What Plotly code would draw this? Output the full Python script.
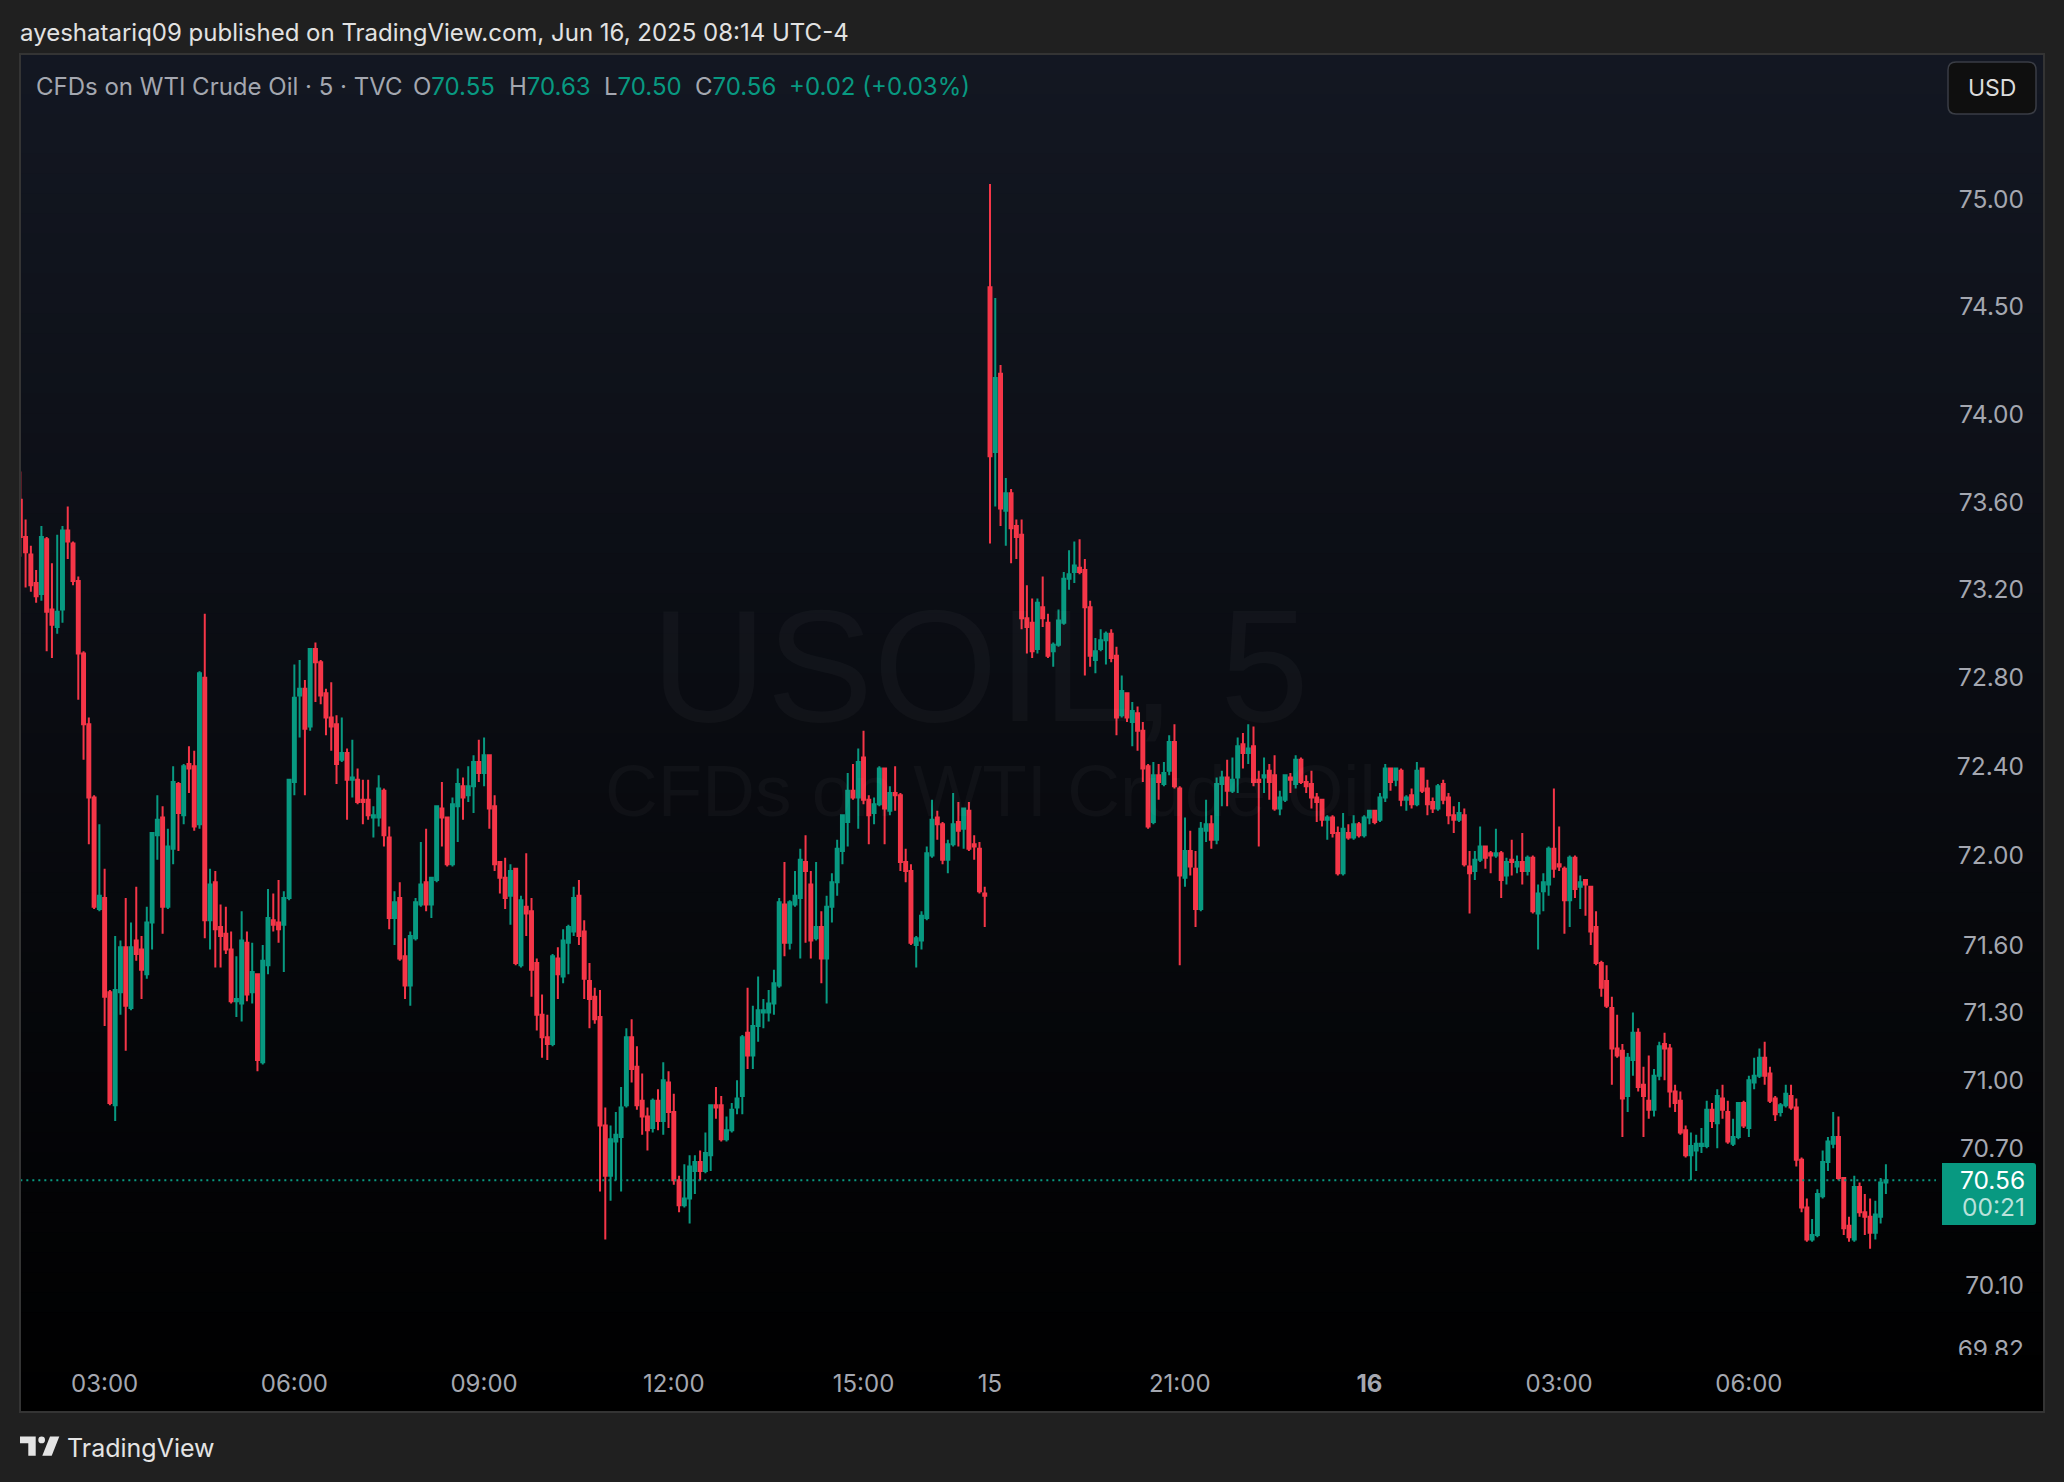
import math
import plotly.graph_objects as go

# ---- values ---------------------------------------------------------------------
open_ = [
73.61,73.44,73.36,73.23,73.18,73.43,73.11,73.03,73.11,73.47,
73.41,73.24,72.91,72.59,72.26,71.76,71.81,71.39,70.89,71.39,
71.59,71.32,71.62,71.58,71.47,71.70,72.09,72.17,71.77,72.03,
72.32,72.18,72.41,72.40,72.14,72.80,71.71,71.88,71.68,71.65,
71.58,71.35,71.34,71.61,71.39,71.47,71.08,71.51,71.71,71.70,
71.69,71.81,72.33,72.72,72.75,72.58,72.93,72.87,72.73,72.62,
72.59,72.43,72.46,72.34,72.34,72.25,72.25,72.17,72.17,72.29,
72.08,71.72,71.81,71.55,71.42,71.63,71.78,71.88,71.78,71.89,
72.21,72.17,71.96,72.22,72.31,72.27,72.31,72.42,72.37,72.45,
72.22,
71.97,71.90,71.82,71.94,71.51,71.77,71.75,71.52,71.29,71.19,
71.16,71.54,71.46,71.61,71.66,71.82,71.66,71.44,71.37,71.28,
70.80,70.58,70.73,70.75,70.89,71.19,71.06,70.91,70.84,70.79,
70.91,70.82,70.99,70.86,70.56,70.45,70.48,70.60,70.64,70.60,
70.67,70.89,70.89,70.74,70.78,70.88,70.93,71.21,71.11,71.24,
71.30,71.30,71.34,71.42,71.78,71.61,71.78,71.81,71.97,71.87,
71.63,71.68,71.54,71.77,71.88,72.02,72.15,72.29,72.26,72.44,
72.25,72.19,72.23,72.39,72.20,72.28,72.27,71.97,71.93,71.60,
71.62,71.72,72.00,72.17,72.14,71.98,72.05,72.15,72.12,72.20,
72.05,72.03,71.83,
74.59,73.83,74.19,73.56,73.64,73.49,73.45,73.07,73.05,72.93,
73.12,73.05,72.92,72.95,73.05,73.25,73.28,73.30,73.29,73.12,
72.88,72.93,72.97,73.00,72.90,72.63,72.73,72.60,72.64,72.56,
72.40,72.15,72.36,72.32,72.38,72.51,72.30,71.90,72.02,71.94,
71.76,72.11,72.14,72.07,72.32,72.35,72.29,72.35,72.50,72.46,
72.49,72.34,
72.35,72.38,72.36,72.21,72.25,72.35,72.32,72.43,72.33,72.32,
72.26,72.25,72.16,72.17,72.10,71.92,72.10,72.08,72.14,72.09,
72.17,72.20,72.16,72.26,72.39,72.34,72.38,72.25,72.27,72.23,
72.39,72.30,72.24,72.21,72.32,72.26,72.18,72.16,72.18,71.95,
71.93,71.98,72.04,72.01,72.00,72.01,71.91,71.98,71.95,71.97,
71.93,71.99,71.74,71.84,71.87,72.03,71.96,71.94,71.80,71.99,
71.86,71.89,71.86,71.68,71.52,
71.44,71.32,71.14,71.13,70.93,71.09,71.21,70.98,70.91,70.87,
71.02,71.16,71.14,70.95,70.91,70.78,70.67,70.69,70.71,70.71,
70.87,70.81,70.92,70.86,70.72,70.75,70.90,70.79,70.99,71.02,
71.10,71.03,70.92,70.86,70.89,70.93,70.88,70.65,70.44,70.30,
70.32,70.49,70.64,70.72,70.75,70.57,70.36,70.30,70.53,70.42,
70.40,70.33,70.40,70.55,
]
high = [
73.74,73.52,73.40,73.29,73.49,73.44,73.32,73.45,73.49,73.58,
73.42,73.26,72.92,72.62,72.27,72.14,71.94,71.40,71.64,71.62,
71.81,71.70,71.86,71.64,71.77,72.10,72.27,72.22,72.12,72.40,
72.33,72.41,72.49,72.47,72.83,73.09,71.94,71.93,71.78,71.77,
71.66,71.55,71.75,71.66,71.61,71.47,71.60,71.85,71.83,71.89,
71.84,72.34,72.86,72.88,72.79,72.93,72.96,72.88,72.75,72.78,
72.63,72.62,72.48,72.52,72.39,72.34,72.34,72.22,72.36,72.30,
72.13,71.84,71.88,71.63,71.66,71.81,72.06,72.12,71.90,72.22,
72.33,72.17,72.26,72.39,72.35,72.40,72.45,72.52,72.53,72.45,
72.27,
71.97,71.99,71.96,71.94,71.82,72.01,71.81,71.54,71.38,71.29,
71.56,71.59,71.67,71.69,71.86,71.89,71.71,71.52,71.41,71.40,
70.88,70.80,70.86,70.97,71.23,71.27,71.15,71.03,70.88,70.92,
70.96,71.08,71.04,70.94,70.58,70.63,70.67,70.67,70.69,70.77,
70.89,70.97,70.93,70.84,70.90,71.00,71.20,71.41,71.33,71.46,
71.36,71.40,71.49,71.81,71.97,71.80,71.93,72.03,72.09,71.93,
71.97,71.75,71.82,71.92,72.07,72.18,72.37,72.41,72.48,72.56,
72.27,72.26,72.40,72.39,72.31,72.40,72.28,72.03,71.96,71.64,
71.75,72.04,72.25,72.20,72.15,72.07,72.28,72.24,72.21,72.24,
72.09,72.06,71.86,
75.07,74.54,74.23,73.71,73.66,73.52,73.52,73.22,73.16,73.16,
73.26,73.09,72.96,73.11,73.28,73.38,73.42,73.43,73.34,73.15,
72.98,73.02,73.01,73.02,72.94,72.81,72.73,72.69,72.67,72.60,
72.41,72.42,72.41,72.42,72.54,72.59,72.31,72.17,72.11,72.02,
72.15,72.25,72.18,72.35,72.38,72.43,72.44,72.53,72.55,72.59,
72.58,72.38,
72.44,72.41,72.45,72.29,72.36,72.37,72.45,72.44,72.36,72.38,
72.28,72.25,72.18,72.18,72.13,72.19,72.14,72.18,72.15,72.18,
72.20,72.20,72.28,72.41,72.39,72.39,72.39,72.27,72.30,72.42,
72.39,72.34,72.26,72.32,72.34,72.28,72.22,72.24,72.21,72.02,
72.02,72.13,72.04,72.02,72.12,72.02,71.99,72.07,72.00,72.10,
72.00,72.00,71.87,71.92,72.04,72.30,72.13,71.95,72.00,72.00,
71.91,71.89,71.86,71.75,71.53,
71.51,71.37,71.29,71.16,71.12,71.30,71.23,71.06,71.11,71.05,
71.17,71.21,71.16,70.98,70.95,70.80,70.77,70.76,70.79,70.91,
70.90,70.96,70.98,70.91,70.83,70.90,70.91,71.02,71.10,71.14,
71.17,71.06,70.93,70.90,70.98,70.98,70.92,70.66,70.48,70.39,
70.52,70.69,70.75,70.86,70.84,70.57,70.40,70.58,70.55,70.50,
70.48,70.47,70.57,70.63,
]
low = [
73.35,73.21,73.19,73.14,73.15,72.92,72.89,73.00,73.05,73.34,
73.22,72.70,72.43,72.05,71.76,71.75,71.24,70.89,70.82,71.29,
71.13,71.31,71.53,71.36,71.45,71.58,71.98,71.65,71.76,71.96,
72.02,72.14,72.28,72.11,72.12,71.63,71.58,71.50,71.50,71.56,
71.34,71.28,71.26,71.35,71.34,71.04,71.07,71.47,71.66,71.61,
71.48,71.80,72.27,72.53,72.27,72.56,72.69,72.68,72.54,72.47,
72.32,72.42,72.16,72.26,72.23,72.14,72.16,72.08,72.13,72.04,
71.67,71.60,71.53,71.36,71.33,71.62,71.77,71.75,71.72,71.88,
72.04,71.95,71.95,72.06,72.16,72.24,72.19,72.33,72.31,72.12,
71.93,
71.83,71.76,71.69,71.51,71.50,71.64,71.37,71.22,71.10,71.09,
71.15,71.36,71.43,71.47,71.64,71.60,71.36,71.23,71.25,70.51,
70.30,70.47,70.56,70.51,70.88,70.99,70.87,70.76,70.69,70.77,
70.78,70.76,70.79,70.54,70.42,70.44,70.37,70.50,70.56,70.59,
70.60,70.83,70.73,70.73,70.77,70.85,70.85,71.05,71.05,71.17,
71.23,71.26,71.29,71.41,71.55,71.58,71.77,71.54,71.61,71.54,
71.62,71.43,71.34,71.70,71.82,71.96,72.04,72.25,72.12,72.23,
72.05,72.14,72.22,72.05,72.18,72.20,71.93,71.88,71.60,71.50,
71.58,71.71,71.99,72.07,71.96,71.92,72.04,72.04,72.03,72.02,
71.98,71.83,71.68,
73.41,73.58,73.49,73.40,73.32,73.34,73.02,72.91,72.89,72.91,
73.03,72.89,72.85,72.94,73.04,73.20,73.23,73.27,72.81,72.85,
72.82,72.92,72.86,72.87,72.54,72.62,72.60,72.49,72.47,72.33,
72.12,72.14,72.25,72.31,72.36,72.30,71.51,71.86,71.91,71.68,
71.75,72.06,72.03,72.05,72.22,72.22,72.28,72.28,72.39,72.41,
72.31,72.04,
72.28,72.25,72.20,72.18,72.24,72.28,72.30,72.32,72.28,72.21,
72.15,72.13,72.07,72.08,71.91,71.91,72.07,72.07,72.08,72.08,
72.14,72.14,72.15,72.24,72.29,72.31,72.22,72.20,72.21,72.22,
72.28,72.18,72.19,72.20,72.23,72.14,72.10,72.15,71.95,71.74,
71.89,71.97,71.94,71.92,71.99,71.81,71.87,71.91,71.92,71.87,
71.91,71.74,71.58,71.75,71.82,71.90,71.93,71.65,71.68,71.81,
71.76,71.73,71.60,71.51,71.37,
71.32,70.98,71.10,70.75,70.86,71.02,70.95,70.75,70.83,70.84,
71.00,71.00,70.88,70.86,70.76,70.66,70.56,70.60,70.68,70.70,
70.79,70.70,70.83,70.72,70.71,70.74,70.79,70.75,70.96,71.01,
70.98,70.90,70.82,70.84,70.88,70.87,70.62,70.42,70.29,70.29,
70.31,70.48,70.60,70.70,70.56,70.32,70.29,70.29,70.40,70.32,
70.26,70.30,70.37,70.50,
]
close = [
73.44,73.37,73.22,73.17,73.44,73.10,73.04,73.10,73.47,73.42,
73.24,72.91,72.59,72.26,71.77,71.82,71.37,70.90,71.40,71.59,
71.33,71.59,71.56,71.49,71.70,72.10,72.16,71.77,72.04,72.33,
72.19,72.40,72.39,72.13,72.82,71.71,71.87,71.67,71.64,71.58,
71.35,71.36,71.62,71.38,71.48,71.09,71.53,71.72,71.69,71.67,
71.81,72.34,72.71,72.75,72.57,72.93,72.87,72.72,72.62,72.58,
72.41,72.46,72.34,72.35,72.24,72.24,72.18,72.18,72.30,72.09,
71.72,71.79,71.54,71.42,71.64,71.79,71.87,71.78,71.90,72.22,
72.17,71.96,72.23,72.32,72.26,72.31,72.42,72.37,72.45,72.21,
71.96,
71.90,71.81,71.93,71.52,71.80,71.74,71.49,71.29,71.19,71.16,
71.55,71.47,71.62,71.68,71.81,71.64,71.45,71.36,71.27,70.80,
70.58,70.74,70.76,70.88,71.19,71.05,70.89,70.84,70.78,70.91,
70.82,71.00,70.86,70.56,70.45,70.48,70.62,70.64,70.60,70.68,
70.89,70.88,70.74,70.78,70.87,70.92,71.19,71.11,71.24,71.31,
71.31,71.34,71.43,71.79,71.61,71.79,71.82,71.98,71.93,71.62,
71.68,71.54,71.77,71.88,72.03,72.18,72.29,72.26,72.42,72.25,
72.18,72.23,72.39,72.21,72.28,72.27,71.97,71.93,71.61,71.63,
71.73,72.01,72.16,72.14,71.98,72.05,72.14,72.11,72.21,72.03,
72.04,71.84,71.82,
73.81,74.17,73.57,73.64,73.48,73.44,73.07,73.03,72.92,73.14,
73.07,72.90,72.95,73.06,73.25,73.27,73.31,73.28,73.12,72.90,
72.92,72.97,73.00,72.89,72.62,72.74,72.62,72.65,72.56,72.39,
72.13,72.36,72.33,72.37,72.51,72.31,71.91,72.02,71.95,71.76,
72.12,72.14,72.07,72.32,72.35,72.29,72.34,72.49,72.46,72.48,
72.33,72.33,
72.36,72.33,72.21,72.26,72.36,72.34,72.43,72.33,72.31,72.26,
72.24,72.16,72.17,72.10,71.92,72.12,72.08,72.14,72.09,72.17,
72.20,72.15,72.26,72.39,72.33,72.39,72.25,72.26,72.23,72.38,
72.29,72.23,72.21,72.31,72.25,72.18,72.16,72.19,71.96,71.92,
71.98,72.04,71.99,72.00,72.01,71.89,71.97,71.97,71.97,71.93,
71.99,71.75,71.83,71.88,72.03,71.94,71.95,71.80,71.99,71.85,
71.88,71.87,71.66,71.52,71.41,
71.33,71.14,71.11,70.92,71.10,71.21,70.97,70.93,70.87,71.02,
71.15,71.14,70.95,70.90,70.77,70.67,70.71,70.72,70.72,70.87,
70.82,70.93,70.87,70.73,70.75,70.90,70.80,71.00,71.02,71.10,
71.02,70.91,70.85,70.89,70.94,70.88,70.65,70.44,70.30,70.32,
70.50,70.64,70.73,70.75,70.57,70.35,70.31,70.53,70.42,70.40,
70.33,70.41,70.55,70.56,
]
price_ticks = [75.00, 74.50, 74.00, 73.60, 73.20, 72.80, 72.40, 72.00, 71.60, 71.30, 71.00, 70.70, 70.40, 70.10, 69.82]
time_tick_index = [16, 52, 88, 124, 160, 184, 220, 256, 292, 328]
time_tick_labels = ["03:00", "06:00", "09:00", "12:00", "15:00", "15", "21:00", "<b>16</b>", "03:00", "06:00"]
last_price = 70.56
countdown = "00:21"

# ---- styling ---------------------------------------------------------------------
W, H = 2064, 1482
L, R, T, B = 20, 2044, 54, 1412
GREEN, RED = "#089981", "#f53648"
GRAY = "#a4a7b0"
FONT = "Inter, Roboto, sans-serif"
def X(px): return (px - L) / (R - L)
def Y(py): return (B - py) / (B - T)

shapes = []
# gradient backdrop of the pane, top to bottom
steps = 68
for k in range(steps):
    f = 1 - k / (steps - 1)
    c = f"rgb({round(19*f)},{round(23*f)},{round(34*f)})"
    y0 = T + (B - T) * k / steps
    y1 = T + (B - T) * (k + 1) / steps + 1
    shapes.append(dict(type="rect", xref="paper", yref="paper", x0=0, x1=1, y0=Y(y0), y1=Y(min(y1, B)),
                       fillcolor=c, line_width=0, layer="below"))

def path(points):
    return "M " + " L ".join(f"{X(a):.5f} {Y(b):.5f}" for a, b in points) + " Z"

# mask that clips the lowest price label where the time scale starts
shapes.append(dict(type="rect", xref="paper", yref="paper", x0=X(1950), x1=X(2042), y0=Y(1410), y1=Y(1355),
                   fillcolor="#000000", line_width=0, layer="above"))
# last price tag
tag = "M {} {} L {} {} Q {} {} {} {} L {} {} Q {} {} {} {} L {} {} Z".format(
    X(1942), Y(1163), X(2033), Y(1163), X(2036), Y(1163), X(2036), Y(1166),
    X(2036), Y(1222), X(2036), Y(1225), X(2033), Y(1225), X(1942), Y(1225))
shapes.append(dict(type="path", xref="paper", yref="paper", path=tag, fillcolor=GREEN, line_width=0, layer="above"))
# USD button
r = 8
btn = "M {} {} L {} {} Q {} {} {} {} L {} {} Q {} {} {} {} L {} {} Q {} {} {} {} L {} {} Q {} {} {} {} Z".format(
    X(1948 + r), Y(62), X(2036 - r), Y(62), X(2036), Y(62), X(2036), Y(62 + r),
    X(2036), Y(114 - r), X(2036), Y(114), X(2036 - r), Y(114),
    X(1948 + r), Y(114), X(1948), Y(114), X(1948), Y(114 - r),
    X(1948), Y(62 + r), X(1948), Y(62), X(1948 + r), Y(62))
shapes.append(dict(type="path", xref="paper", yref="paper", path=btn, fillcolor="#0f0f0f",
                   line=dict(color="#3a3d45", width=1.5), layer="above"))
# pane border
shapes.append(dict(type="rect", xref="paper", yref="paper", x0=0, x1=1, y0=0, y1=1,
                   fillcolor="rgba(0,0,0,0)", line=dict(color="#343434", width=2), layer="above"))
# TradingView logo
shapes.append(dict(type="path", xref="paper", yref="paper", fillcolor="#e4e4e4", line_width=0,
                   path=path([(20, 1436.5), (35.7, 1436.5), (35.7, 1455.7), (28.3, 1455.7), (28.3, 1443.3), (20, 1443.3)])))
shapes.append(dict(type="circle", xref="paper", yref="paper", fillcolor="#e4e4e4", line_width=0,
                   x0=X(38.3), x1=X(45), y0=Y(1443.3), y1=Y(1436.5)))
shapes.append(dict(type="path", xref="paper", yref="paper", fillcolor="#e4e4e4", line_width=0,
                   path=path([(50, 1436.5), (59.3, 1436.5), (51.7, 1455.7), (42.3, 1455.7)])))

def span(text, color):
    return f'<span style="color:{color}">{text}</span>'

def note(px, py, text, size=24, color=GRAY, anchor="left", family=FONT):
    return dict(xref="paper", yref="paper", x=X(px), y=Y(py), text=text, showarrow=False,
                xanchor=anchor, yanchor="middle", align=anchor, xshift=0,
                font=dict(family=family, size=size, color=color))

wm = "rgba(255,255,255,0.032)"
annotations = [
    note(980, 666, "USOIL, 5", size=160, color=wm, anchor="center", family="Liberation Sans"),
    note(990, 790, "CFDs on WTI Crude Oil", size=73, color=wm, anchor="center", family="Liberation Sans"),
    note(18, 32, "ayeshatariq09 published on TradingView.com, Jun 16, 2025 08:14 UTC-4", size=24, color="#e2e2e2"),
    note(33.5, 86, "CFDs on WTI Crude Oil · 5 · TVC"),
    note(411, 86, "O" + span(f"{open_[-1]:.2f}", GREEN)),
    note(507, 86, "H" + span(f"{high[-1]:.2f}", GREEN)),
    note(602, 86, "L" + span(f"{low[-1]:.2f}", GREEN)),
    note(693, 86, "C" + span(f"{close[-1]:.2f}", GREEN)),
    note(787, 86, "+0.02 (+0.03%)", color=GREEN),
    note(1992, 88, "USD", size=23, color="#dcdcdc", anchor="center"),
    note(64.5, 1448, "TradingView", size=25, color="#e4e4e4"),
    note(2027, 1180, f"{last_price:.2f}", size=24.5, color="#ffffff", anchor="right"),
    note(2027, 1207, countdown, size=24.5, color="rgba(255,255,255,0.72)", anchor="right"),
]

x = list(range(len(close)))
fig = go.Figure()
fig.add_trace(go.Scatter(x=[x[0], 363.5], y=[last_price, last_price], mode="lines", hoverinfo="skip",
                         line=dict(color=GREEN, width=2, dash="2px,4px"), showlegend=False))
fig.add_trace(go.Candlestick(
    x=x, open=open_, high=high, low=low, close=close, showlegend=False, whiskerwidth=0,
    increasing=dict(line=dict(color=GREEN, width=2), fillcolor=GREEN),
    decreasing=dict(line=dict(color=RED, width=2), fillcolor=RED)))

ppx = 5.27
fig.update_layout(
    width=W, height=H, margin=dict(l=L, r=W - R, t=T, b=H - B, autoexpand=False),
    paper_bgcolor="#202020", plot_bgcolor="#000000",
    boxgap=0.2, boxgroupgap=0.3,
    shapes=shapes, annotations=annotations, showlegend=False,
    xaxis=dict(range=[-0.06, (R - L) / ppx - 0.06], rangeslider=dict(visible=False), showgrid=False, zeroline=False,
               tickmode="array", tickvals=time_tick_index, ticktext=time_tick_labels,
               ticks="", ticklabelposition="inside", ticklabelstandoff=12, showline=False,
               tickfont=dict(family=FONT, size=24, color=GRAY)),
    yaxis=dict(type="log", side="right",
               range=[math.log10(69.55), math.log10(75.68)], showgrid=False, zeroline=False,
               tickmode="array", tickvals=price_ticks, ticktext=[f"{v:.2f}" for v in price_ticks],
               ticks="", ticklabelposition="inside", ticklabelstandoff=17, showline=False,
               tickfont=dict(family=FONT, size=24.5, color=GRAY)),
)
fig.write_html("out.html", config=dict(displayModeBar=False),
               post_script="document.body.style.margin='0';document.body.style.overflow='hidden';")
